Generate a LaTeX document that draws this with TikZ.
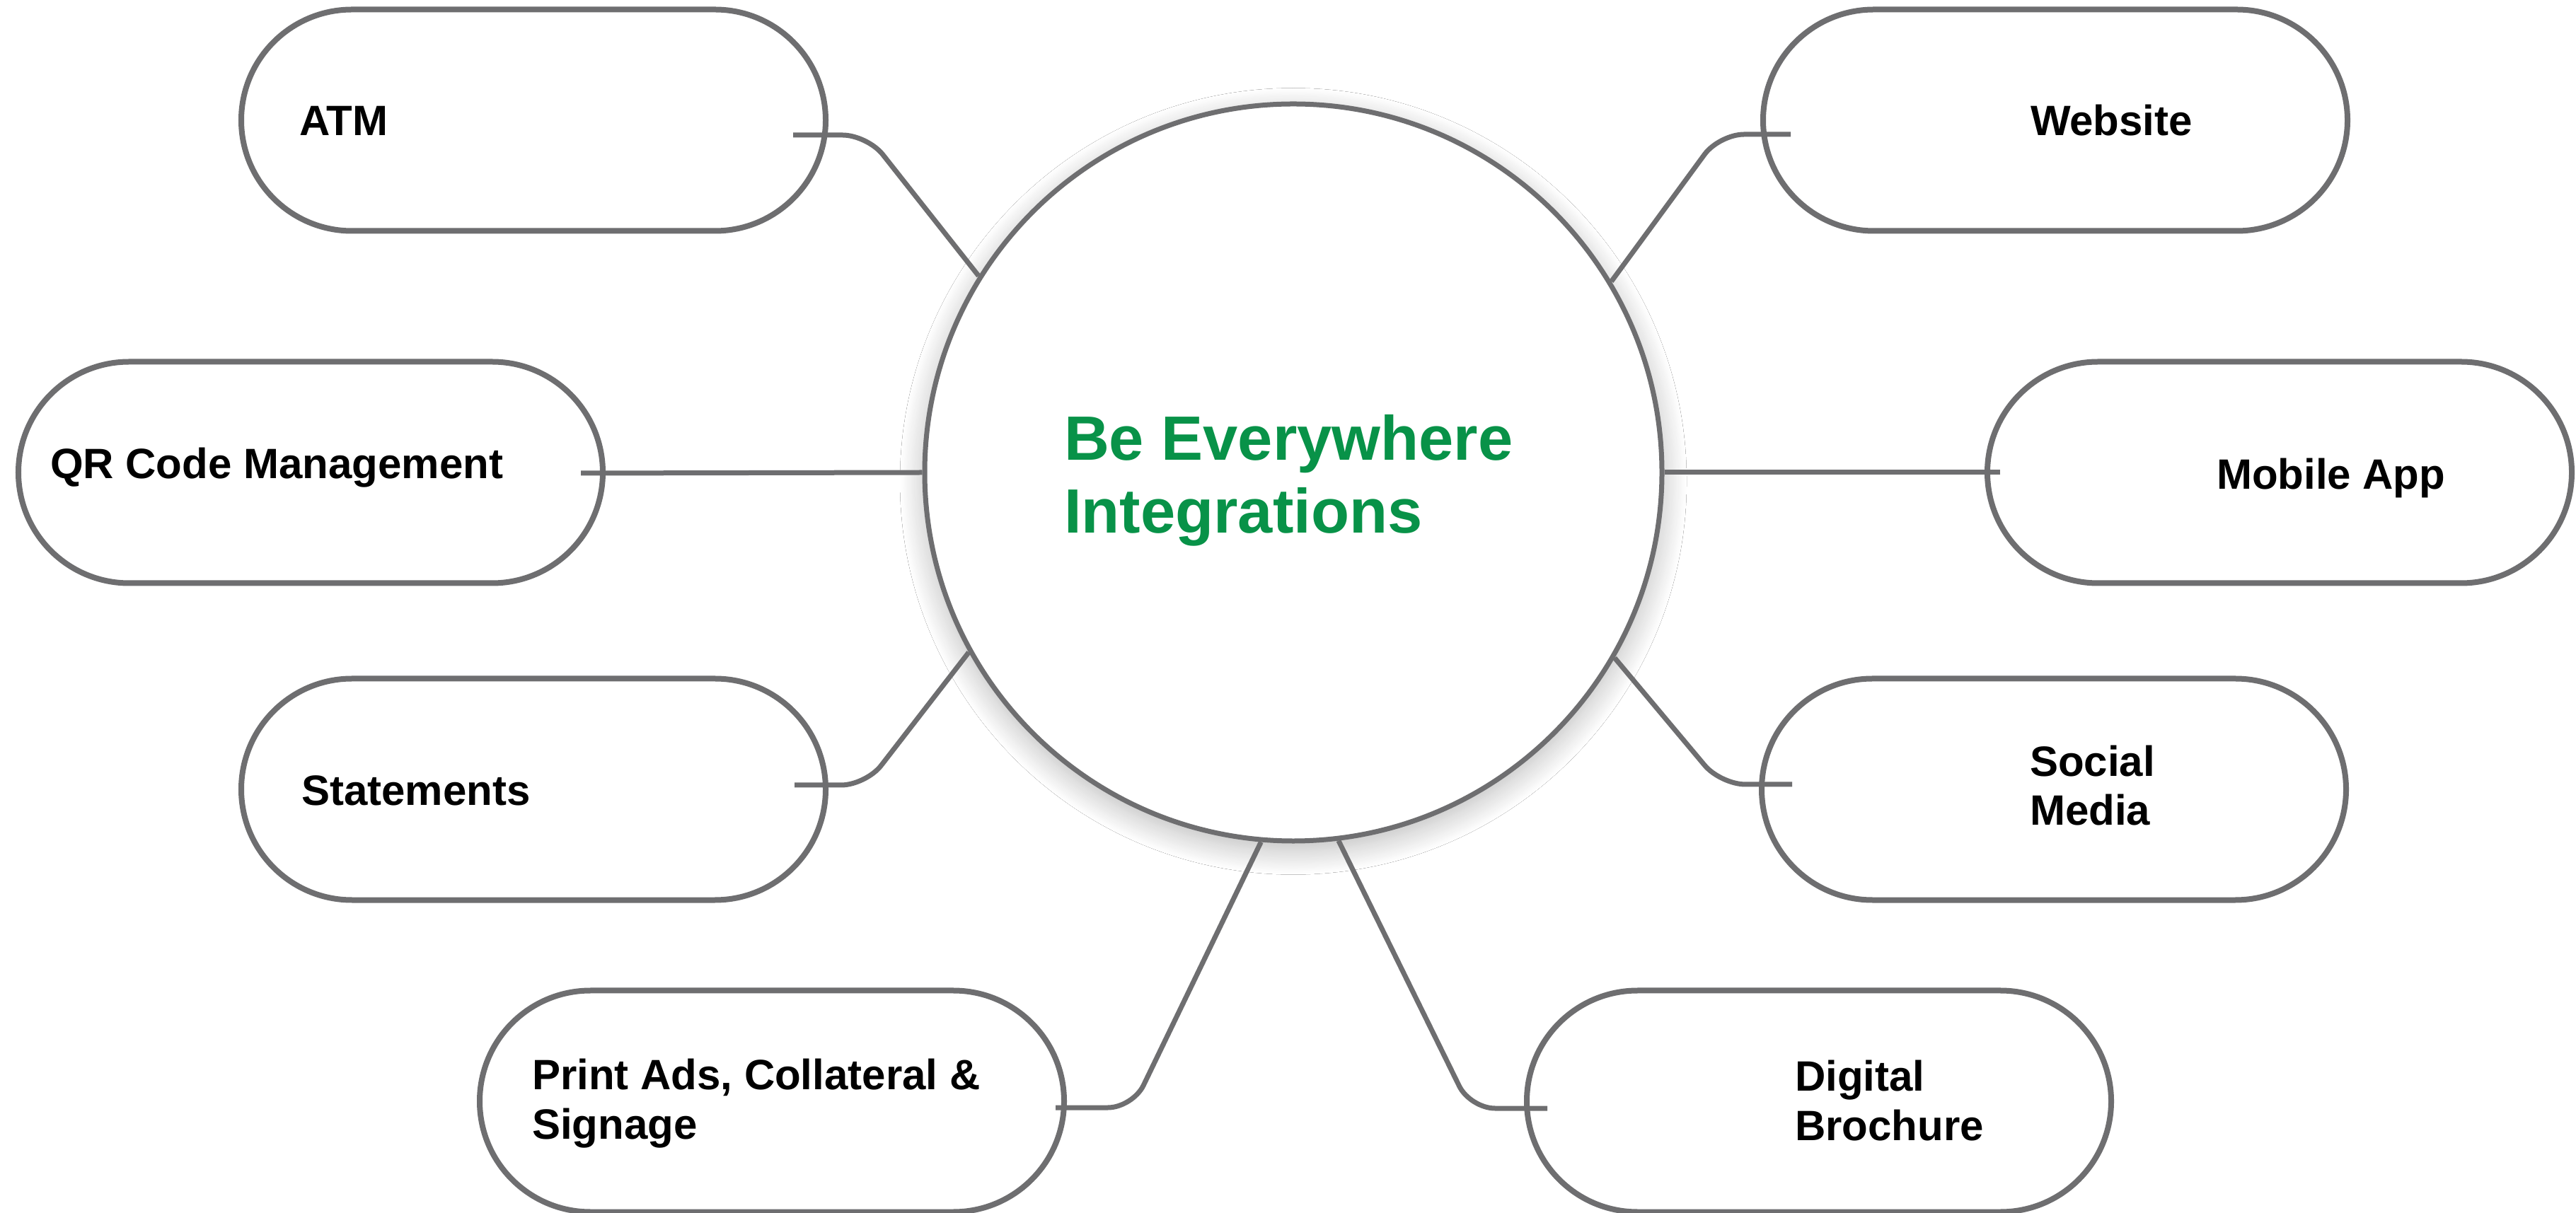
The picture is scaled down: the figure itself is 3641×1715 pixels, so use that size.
\documentclass[tikz,border=0pt]{standalone}
\usepackage{fontspec}
\setmainfont{Liberation Sans}
\usetikzlibrary{shapes.misc,shadows.blur,calc}
\definecolor{linegray}{RGB}{110,110,112}
\definecolor{titlegreen}{RGB}{8,146,72}
\begin{document}
\begin{tikzpicture}[x=0.2pt,y=-0.2pt,
  pill/.style={rounded rectangle, draw=linegray, line width=1.6pt, fill=white,
    minimum width=165.2pt, minimum height=62.6pt, inner sep=0pt},
  hub/.style={circle, draw=linegray, line width=1.4pt, fill=white,
    minimum size=208.4pt, inner sep=0pt,
    blur shadow={shadow xshift=0pt, shadow yshift=-2.5pt, shadow blur radius=7pt,
      shadow blur steps=20, shadow opacity=28}},
  conn/.style={draw=linegray, line width=1.4pt, rounded corners=7pt},
  lbl/.style={anchor=base west, inner sep=0pt, align=left,
    font=\fontsize{12}{13.9}\selectfont\bfseries},
  ttl/.style={anchor=base west, inner sep=0pt, align=left, text=titlegreen,
    font=\fontsize{17.7}{20.6}\selectfont\bfseries}]
\fill[white] (0,0) rectangle (3641,1715);
\useasboundingbox (0,0) rectangle (3641,1715);

% hub
\node[hub] (c) at (1828,668) {};

% pills
\node[pill] (atm) at (754,170) {};
\node[pill] (qr)  at (439,668) {};
\node[pill] (stm) at (754,1116) {};
\node[pill] (prn) at (1091,1557) {};
\node[pill] (web) at (2905,170) {};
\node[pill] (mob) at (3222,668) {};
\node[pill] (soc) at (2903,1116) {};
\node[pill] (dig) at (2571,1557) {};

% bends
\coordinate (atmk) at (1226,191);
\coordinate (webk) at (2430,190);
\coordinate (stmk) at (1224,1110);
\coordinate (sock) at (2432,1109);
\coordinate (prnk) at (1601,1566);
\coordinate (digk) at (2078,1567);

% connectors
\draw[conn] ($(atm.center)+(367,21)$) -- (atmk) -- (c.148.1);
\draw[conn] ($(qr.center)+(382,1)$) -- (c.west);
\draw[conn] ($(stm.center)+(369,-6)$) -- (stmk) -- (c.209.5);
\draw[conn] ($(prn.center)+(401,9)$) -- (prnk) -- (c.265.5);
\draw[conn] ($(web.center)+(-374,20)$) -- (webk) -- (c.31.9);
\draw[conn] ($(mob.center)+(-395,0)$) -- (c.east);
\draw[conn] ($(soc.center)+(-370,-7)$) -- (sock) -- (c.330.5);
\draw[conn] ($(dig.center)+(-384,10)$) -- (digk) -- (c.277);

% labels (base anchor = baseline of the last line)
\node[lbl] (atm-t) at (422,192) {ATM};
\node[lbl] (qr-t)  at (70,677) {QR Code Management};
\node[lbl] (stm-t) at (425,1139) {Statements};
\node[lbl] (prn-t) at (751,1610) {Print Ads, Collateral \&\\Signage};
\node[lbl] (web-t) at (2869,192) {Website};
\node[lbl] (mob-t) at (3132,692) {Mobile App};
\node[lbl] (soc-t) at (2868,1167) {Social\\Media};
\node[lbl] (dig-t) at (2536,1612) {Digital\\Brochure};
\node[ttl] (title) at (1503,754) {Be Everywhere\\Integrations};
\end{tikzpicture}
\end{document}
